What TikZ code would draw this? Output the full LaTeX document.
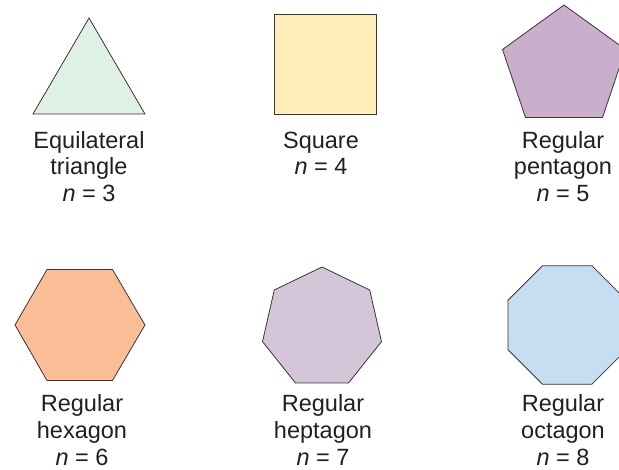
\documentclass[tikz,border=0pt]{standalone}
\usepackage{fontspec}
\setmainfont{Liberation Sans}
\definecolor{ink}{HTML}{231F20}
\definecolor{cTri}{HTML}{DFF0E4}
\definecolor{cSq}{HTML}{FFEDBA}
\definecolor{cPen}{HTML}{C9AFCB}
\definecolor{cHex}{HTML}{F9BE95}
\definecolor{cHep}{HTML}{D5C5D8}
\definecolor{cOct}{HTML}{C6DEF2}
\tikzset{
  poly/.style={draw=ink!90, line width=0.8pt, line join=miter},
  lbl/.style={anchor=base, inner sep=0pt, text=ink, font=\fontsize{23.5}{26}\selectfont}
}
\begin{document}
\begin{tikzpicture}[x=1pt,y=-1pt]
\useasboundingbox (0,0) rectangle (619,470);
\clip (0,0) rectangle (619,470);
% shapes
\filldraw[poly, fill=cTri] (89,18) -- (145,114) -- (33,114) -- cycle;
\filldraw[poly, fill=cSq] (274,14) rectangle (376,114);
\filldraw[poly, fill=cPen] (564,5) -- (625.5,49.5) -- (602.5,117.5) -- (525.5,117.5) -- (502.5,49.5) -- cycle;
\filldraw[poly, fill=cHex] (47,269.5) -- (112.5,269.5) -- (145,325) -- (112.5,380.5) -- (47,380.5) -- (15,325) -- cycle;
\filldraw[poly, fill=cHep] (322,267) -- (369.7,290) -- (381.5,341.6) -- (348.5,383) -- (295.5,383) -- (262.5,341.6) -- (274.3,290) -- cycle;
\filldraw[poly, fill=cOct] (542.6,265.7) -- (591.8,265.7) -- (626.5,300.4) -- (626.5,349.6) -- (591.8,384.3) -- (542.6,384.3) -- (507.9,349.6) -- (507.9,300.4) -- cycle;
% labels
\node[lbl] (t1) at (89,148.5) {Equilateral};
\node[lbl] (t2) at (89,175) {triangle};
\node[lbl] (t3) at (89,201.5) {\textit{n} = 3};
\node[lbl] (s1) at (321,148.5) {Square};
\node[lbl] (s2) at (321,175) {\textit{n} = 4};
\node[lbl] (p1) at (563,148.5) {Regular};
\node[lbl] (p2) at (563,175) {pentagon};
\node[lbl] (p3) at (563,201.5) {\textit{n} = 5};
\node[lbl] (h1) at (82,411.7) {Regular};
\node[lbl] (h2) at (82,438.3) {hexagon};
\node[lbl] (h3) at (82,465) {\textit{n} = 6};
\node[lbl] (e1) at (323,411.7) {Regular};
\node[lbl] (e2) at (323,438.3) {heptagon};
\node[lbl] (e3) at (323,465) {\textit{n} = 7};
\node[lbl] (o1) at (563,411.7) {Regular};
\node[lbl] (o2) at (563,438.3) {octagon};
\node[lbl] (o3) at (563,465) {\textit{n} = 8};
\end{tikzpicture}
\end{document}
